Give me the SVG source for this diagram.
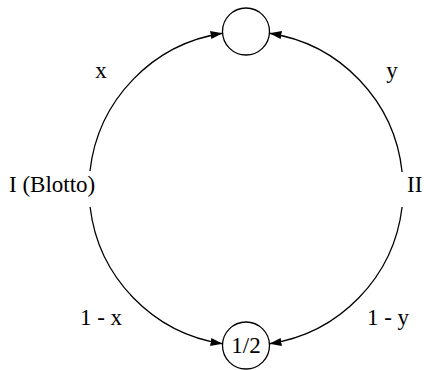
<svg xmlns="http://www.w3.org/2000/svg" width="424" height="370" viewBox="0 0 424 370">
<style>
  .node { fill: #fff; stroke: #000; stroke-width: 1.3; }
  .edge { fill: none; stroke: #000; stroke-width: 1.3; }
  text { font-family: "Liberation Serif", "Times New Roman", serif; font-size: 23px; fill: #000; }
</style>
<defs>
  <marker id="arrow" markerUnits="userSpaceOnUse" markerWidth="14" markerHeight="10" refX="12" refY="4" orient="auto">
    <path d="M0,0 L12,4 L0,8 z" fill="#000"/>
  </marker>
</defs>
<g id="connectors">
  <path class="edge" d="M 89.98 171 A 157 157 0 0 1 222.58 33.26" marker-end="url(#arrow)"/>
  <path class="edge" d="M 90.1 207 A 157 157 0 0 0 222.58 343.74" marker-end="url(#arrow)"/>
  <path class="edge" d="M 402.1 172 A 157 157 0 0 0 269.42 33.26" marker-end="url(#arrow)"/>
  <path class="edge" d="M 402.1 207 A 157 157 0 0 1 269.42 343.74" marker-end="url(#arrow)"/>
</g>
<g id="node-top">
  <circle class="node" cx="246" cy="31.5" r="23.5"/>
</g>
<g id="node-bottom">
  <circle class="node" cx="246" cy="345.5" r="23.5"/>
  <text x="246" y="353" text-anchor="middle">1/2</text>
</g>
<g id="player-I">
  <text x="9" y="192">I (Blotto)</text>
</g>
<g id="player-II">
  <text x="407" y="192">II</text>
</g>
<g id="labels">
  <text x="101" y="78" text-anchor="middle">x</text>
  <text x="392" y="78" text-anchor="middle">y</text>
  <text x="101" y="325" text-anchor="middle">1 - x</text>
  <text x="388" y="325" text-anchor="middle">1 - y</text>
</g>
</svg>
